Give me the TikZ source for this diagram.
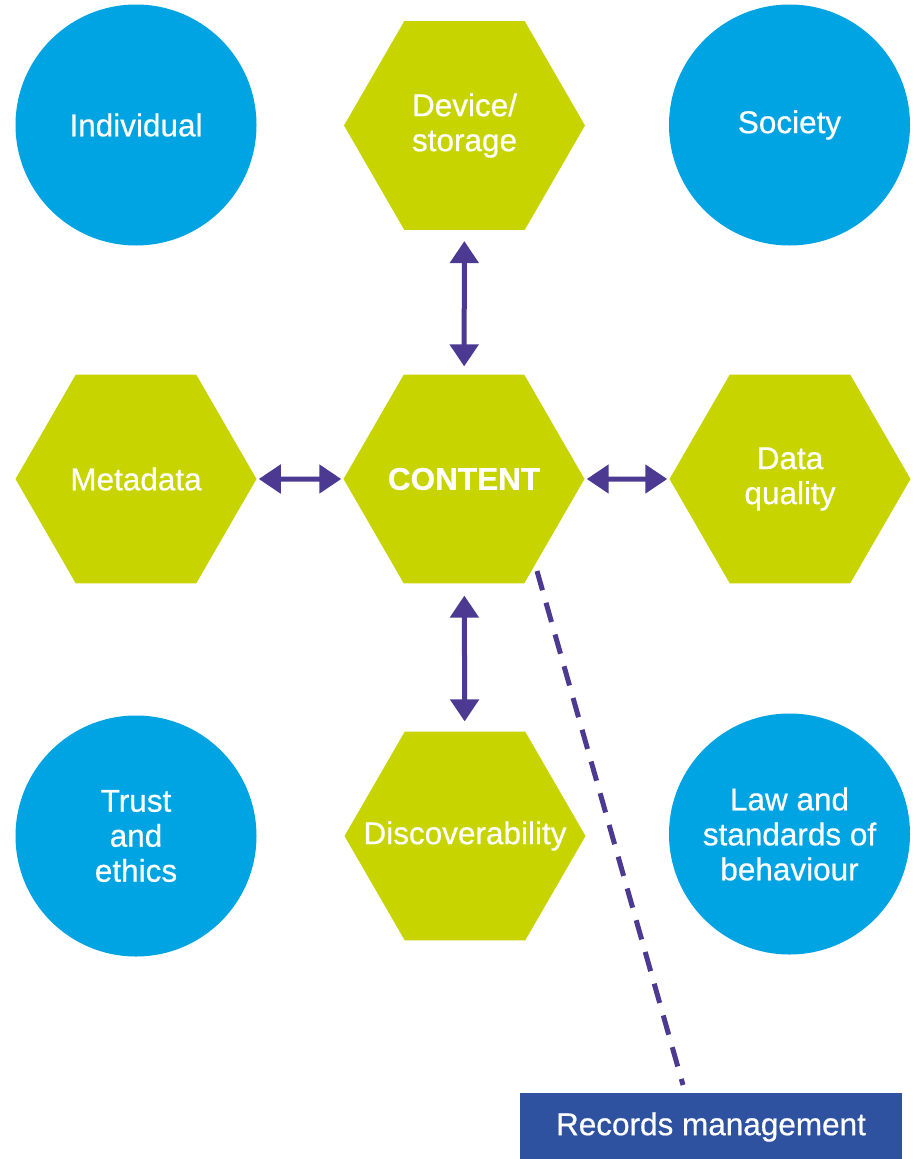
\documentclass[tikz,border=0pt]{standalone}
\usepackage{fontspec}
\setmainfont{Liberation Sans}
\newfontfamily\medfont{Liberation Sans}[FakeBold=0.6]
\usetikzlibrary{arrows.meta,shapes.geometric}
\definecolor{cblue}{RGB}{0,164,226}
\definecolor{cgreen}{RGB}{200,212,0}
\definecolor{cpurple}{RGB}{76,58,146}
\definecolor{cbox}{RGB}{46,82,160}
\tikzset{
  lbl/.style={text=white,font=\medfont\fontsize{31.5}{35}\selectfont,align=center,inner sep=0pt},
  bubble/.style={lbl,circle,fill=cblue,minimum size=241pt},
  hexa/.style={lbl,regular polygon,regular polygon sides=6,fill=cgreen,minimum size=241pt},
  conn/.style={cpurple,line width=5pt,{Triangle[width=28pt,length=22pt]}-{Triangle[width=28pt,length=22pt]}},
  dashline/.style={cpurple,line width=5pt,dash pattern=on 20pt off 13pt},
  recbox/.style={lbl,rectangle,fill=cbox,minimum width=382pt,minimum height=68pt}
}
\begin{document}
\begin{tikzpicture}[x=1pt,y=-1pt]
\fill[white] (0,0) rectangle (913,1159);
\useasboundingbox (0,0) rectangle (913,1159);
\node[bubble] (individual) at (136,125) {Individual};
\node[bubble] (society) at (789.5,125) {Society};
\node[bubble] (trust) at (136,836) {Trust\\and\\ethics};
\node[bubble] (law) at (789.5,834) {Law and\\standards of\\behaviour};
\node[hexa] (device) at (464.5,125.5) {Device/\\storage};
\node[hexa] (metadata) at (136,479) {Metadata};
\node[hexa] (content) at (464,479) {\makebox[0pt][c]{\bfseries CONTENT}};
\node[hexa] (quality) at (790,479) {Data\\quality};
\node[hexa] (disc) at (465,836) {\makebox[0pt][c]{Discoverability}};
\node[recbox] (records) at (711,1127) {Records management};
\draw[conn,shorten <=11pt,shorten >=8pt] (device) -- (content);
\draw[conn,shorten <=2pt,shorten >=2pt] (metadata) -- (content);
\draw[conn,shorten <=2pt,shorten >=2pt] (content) -- (quality);
\draw[conn,shorten <=12pt,shorten >=10pt] (content) -- (disc);
\coordinate (dstart) at (537,571);
\coordinate (dend) at (683,1085);
\draw[dashline] (dstart) -- (dend);
\end{tikzpicture}
\end{document}
